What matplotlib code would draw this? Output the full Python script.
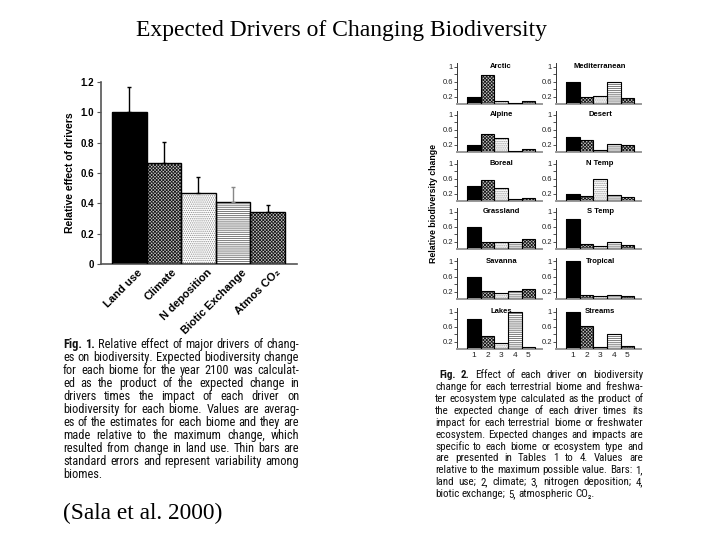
import matplotlib
matplotlib.use("Agg")
import matplotlib.pyplot as plt
from matplotlib.font_manager import FontProperties
from matplotlib.transforms import ScaledTranslation
import numpy as np

# ---------------- data ----------------
drivers = ["Land use", "Climate", "N deposition", "Biotic Exchange", "Atmos CO\u2082"]
effect = [1.0, 0.665, 0.47, 0.41, 0.345]
effect_se = [0.17, 0.14, 0.105, 0.095, 0.045]

biomes = ["Arctic", "Mediterranean", "Alpine", "Desert", "Boreal", "N Temp",
          "Grassland", "S Temp", "Savanna", "Tropical", "Lakes", "Streams"]
arctic = [0.18, 0.78, 0.09, 0.02, 0.07]
mediterranean = [0.6, 0.2, 0.22, 0.6, 0.17]
alpine = [0.2, 0.48, 0.37, 0.03, 0.08]
desert = [0.4, 0.33, 0.05, 0.22, 0.18]
boreal = [0.4, 0.55, 0.35, 0.05, 0.08]
n_temp = [0.18, 0.13, 0.6, 0.15, 0.12]
grassland = [0.6, 0.2, 0.2, 0.2, 0.27]
s_temp = [0.8, 0.13, 0.08, 0.2, 0.12]
savanna = [0.6, 0.22, 0.16, 0.22, 0.28]
tropical = [1.0, 0.12, 0.07, 0.1, 0.08]
lakes = [0.8, 0.35, 0.15, 1.0, 0.06]
streams = [1.0, 0.62, 0.05, 0.4, 0.08]
biome_values = [arctic, mediterranean, alpine, desert, boreal, n_temp,
                grassland, s_temp, savanna, tropical, lakes, streams]
bar_numbers = ["1", "2", "3", "4", "5"]

title = "Expected Drivers of Changing Biodiversity"
citation = "(Sala et al. 2000)"
cap1 = ["Fig. 1. Relative effect of major drivers of chang-",
        "es on biodiversity. Expected biodiversity change",
        "for each biome for the year 2100 was calculat-",
        "ed as the product of the expected change in",
        "drivers times the impact of each driver on",
        "biodiversity for each biome. Values are averag-",
        "es of the estimates for each biome and they are",
        "made relative to the maximum change, which",
        "resulted from change in land use. Thin bars are",
        "standard errors and represent variability among",
        "biomes."]
cap2 = ["Fig. 2. Effect of each driver on biodiversity",
        "change for each terrestrial biome and freshwa-",
        "ter ecosystem type calculated as the product of",
        "the expected change of each driver times its",
        "impact for each terrestrial biome or freshwater",
        "ecosystem. Expected changes and impacts are",
        "specific to each biome or ecosystem type and",
        "are presented in Tables 1 to 4. Values are",
        "relative to the maximum possible value. Bars: 1,",
        "land use; 2, climate; 3, nitrogen deposition; 4,",
        "biotic exchange; 5, atmospheric CO\u2082."]

# ---------------- styles ----------------
W, H = 720, 540
plt.rcParams["hatch.linewidth"] = 0.6
SANS = ["Liberation Sans", "DejaVu Sans"]
SERIF = ["Liberation Serif", "DejaVu Serif"]
CAPF = ["Liberation Sans Narrow", "Roboto Condensed", "DejaVu Sans Condensed",
        "Roboto", "DejaVu Sans"]
STYLES = [dict(face="black", hatch=None, hc="black"),
          dict(face="#c8c8c8", hatch="xxxxxxxxxx", hc="#1a1a1a"),
          dict(face="white", hatch="........", hc="#8a8a8a"),
          dict(face="white", hatch="--------", hc="#666666"),
          dict(face="#c8c8c8", hatch="xxxxxxxxxx", hc="#1a1a1a")]

fig = plt.figure(figsize=(7.2, 5.4), dpi=100)


def ax_px(x0, ytop, x1, ybot):
    return fig.add_axes([x0 / W, 1 - ybot / H, (x1 - x0) / W, (ybot - ytop) / H])


def draw_bars(ax, x, vals, lw):
    for i, (xi, v) in enumerate(zip(x, vals)):
        s = STYLES[i]
        ax.bar(xi, v, width=1.0, color=s["face"], hatch=s["hatch"],
               edgecolor=s["hc"], linewidth=0, zorder=2)
        ax.bar(xi, v, width=1.0, fill=False, edgecolor="black", linewidth=lw, zorder=3)


# ---------------- left chart ----------------
ax = ax_px(101, 82, 297, 264)
xs = np.arange(len(drivers))
draw_bars(ax, xs, effect, 1.0)
for i, (xi, v, e) in enumerate(zip(xs, effect, effect_se)):
    col = "#888888" if i == 3 else "black"
    ax.errorbar(xi, v, yerr=[[0], [e]], fmt="none", ecolor=col, elinewidth=1.0,
                capsize=1.2, capthick=1.0, zorder=4)
ax.set_xlim(-0.818, 4.85)
ax.set_ylim(0, 1.2)
for sp in ["top", "right"]:
    ax.spines[sp].set_visible(False)
for sp in ["left", "bottom"]:
    ax.spines[sp].set_color("#555555")
    ax.spines[sp].set_linewidth(1.2)
yt = [0, 0.2, 0.4, 0.6, 0.8, 1.0, 1.2]
ax.set_yticks(yt)
ax.set_yticklabels(["0", "0.2", "0.4", "0.6", "0.8", "1.0", "1.2"],
                   fontsize=7, fontweight="bold", family=SANS)
ax.tick_params(axis="y", length=3, width=0.8, color="#555555", pad=2)
ax.set_xticks(xs)
ax.set_xticklabels(drivers, rotation=45, ha="right", rotation_mode="anchor",
                   fontsize=8, fontweight="bold", family=SANS)
ax.tick_params(axis="x", length=0, pad=3)
off = ScaledTranslation(8 / 100, 1 / 100, fig.dpi_scale_trans)
for lab in ax.get_xticklabels():
    lab.set_transform(lab.get_transform() + off)
ax.set_ylabel("Relative effect of drivers", fontsize=7.5, fontweight="bold",
              family=SANS, labelpad=4)

# ---------------- small multiples ----------------
col_x = [(457, 542), (556, 641)]
baselines = [104, 152, 201, 249, 299, 349]
px_per_unit = 37.5
ymax = 1.1
bx = np.arange(1, 6)
for k, (name, vals) in enumerate(zip(biomes, biome_values)):
    r, c = divmod(k, 2)
    x0, x1 = col_x[c]
    yb = baselines[r]
    a = ax_px(x0, yb - ymax * px_per_unit, x1, yb)
    draw_bars(a, bx, vals, 0.8)
    a.set_xlim(-0.24, 6.0)
    a.set_ylim(0, ymax)
    for sp in ["top", "right"]:
        a.spines[sp].set_visible(False)
    a.spines["left"].set_linewidth(0.7)
    a.spines["left"].set_color("#333333")
    a.spines["bottom"].set_linewidth(1.4)
    a.spines["bottom"].set_color("#999999")
    a.set_yticks([0.2, 0.6, 1.0])
    a.set_yticklabels(["0.2", "0.6", "1"], fontsize=5.5, family=SANS, color="#222222")
    a.set_yticks([0.4, 0.8], minor=True)
    a.tick_params(axis="y", which="both", length=2, width=0.6, pad=1, color="#333333")
    if r == 5:
        a.set_xticks(bx)
        a.set_xticklabels(bar_numbers, fontsize=6, family=SANS, color="#222222")
        a.tick_params(axis="x", length=0, pad=2)
    else:
        a.set_xticks([])
    a.text(3, 1.0, name, ha="center", va="center", fontsize=5.5,
           fontweight="bold", family=SANS)

fig.text(434 / W, 1 - 203 / H, "Relative biodiversity change", rotation=90,
         ha="center", va="center", fontsize=6.3, fontweight="bold", family=SANS)

# ---------------- titles ----------------
fig.text(341 / W, 1 - 31 / H, title, ha="center", va="center",
         fontsize=17, family=SERIF)
fig.text(63 / W, 1 - 513 / H, citation, ha="left", va="center",
         fontsize=16.8, family=SERIF)

# ---------------- justified captions ----------------
renderer = fig.canvas.get_renderer()


def tw(s, prop):
    w, h, d = renderer.get_text_width_height_descent(s, prop, ismath=False)
    return w


def caption(lines, x0, x1, base0, dy, nbold, indent=0, maxsize=9.5):
    reg10 = FontProperties(family=CAPF, size=10)
    maxw = 0
    for ln in lines[:-1]:
        maxw = max(maxw, tw(ln, reg10))
    size = min(maxsize, 10 * (x1 - x0) / maxw * 0.985)
    reg = FontProperties(family=CAPF, size=size)
    bold = FontProperties(family=CAPF, size=size, weight="bold")
    space = tw("x x", reg) - tw("xx", reg)
    for li, ln in enumerate(lines):
        words = ln.split(" ")
        props = [bold if (li == 0 and wi < nbold) else reg for wi in range(len(words))]
        widths = [tw(w_, p) for w_, p in zip(words, props)]
        start = x0 + (indent if li == 0 else 0)
        avail = x1 - start
        if li < len(lines) - 1 and len(words) > 1:
            gap = (avail - sum(widths)) / (len(words) - 1)
        else:
            gap = space
        x = start
        y = base0 + li * dy
        for w_, p, wd in zip(words, props, widths):
            fig.text(x / W, 1 - y / H, w_, fontproperties=p, ha="left", va="baseline",
                     color="#111111")
            x += wd + gap


caption(cap1, 63, 299, 348, 12.95, 2, maxsize=9.5)
caption(cap2, 435, 643, 378.3, 11.87, 2, indent=4, maxsize=8.8)

fig.savefig("out.png", dpi=100)
